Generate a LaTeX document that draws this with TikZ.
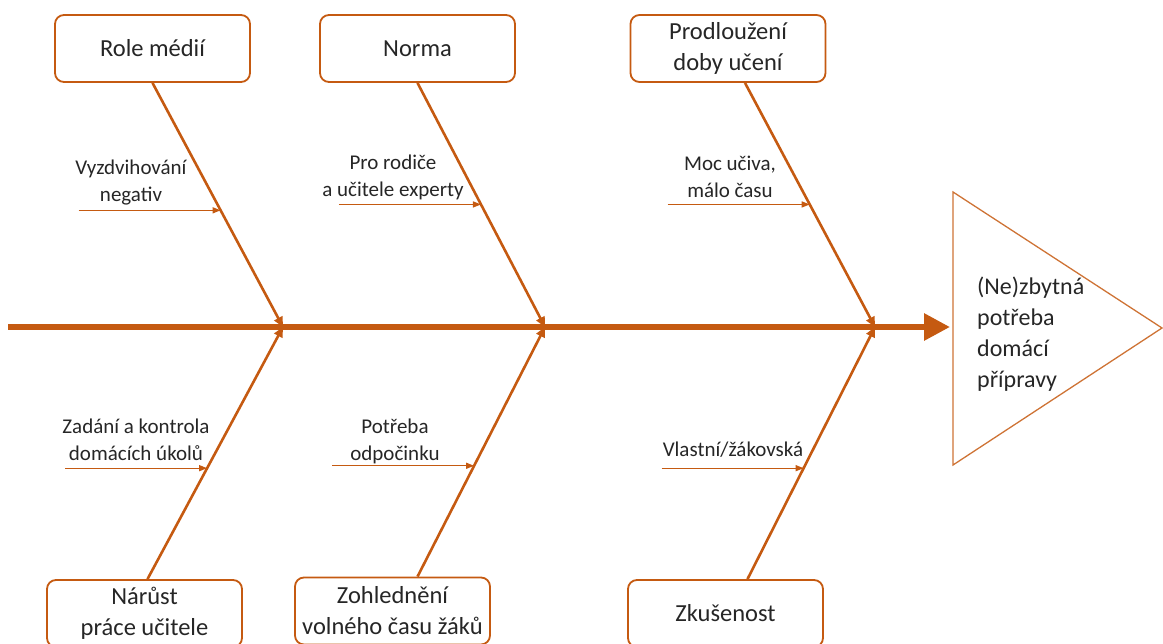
\documentclass[tikz,border=0pt]{standalone}
\usepackage{fontspec}
\setmainfont{Carlito}
\usetikzlibrary{arrows.meta, positioning, calc}
\definecolor{fishorange}{RGB}{197,90,17}

\begin{document}
\begin{tikzpicture}[
  x=1pt, y=-1pt,
  cause/.style={rectangle, rounded corners=9pt, draw=fishorange, line width=1.8pt,
                fill=white, minimum width=195pt, minimum height=67pt, align=center,
                font=\fontsize{24.5}{31}\selectfont, text=black!85},
  sublabel/.style={align=center, font=\fontsize{21}{27}\selectfont, text=black!85},
  spine/.style={-{Triangle[length=26pt, width=26pt]}, line width=6pt, color=fishorange},
  bone/.style={-{Triangle[length=10pt, width=9pt]}, line width=2.6pt, color=fishorange},
  twig/.style={-{Triangle[length=8pt, width=6pt]}, line width=1.3pt, color=fishorange},
]
  \useasboundingbox (0,0) rectangle (1163,644);

  % effect (head of the fish)
  \coordinate (tri1) at (953,192);
  \coordinate (tri2) at (1162,328);
  \coordinate (tri3) at (953,465);
  \draw[fishorange!85, line width=1.3pt] (tri1) -- (tri2) -- (tri3) -- cycle;
  \node[align=left, anchor=west, inner sep=0pt, font=\fontsize{24}{31}\selectfont,
        text=black!85] (effect) at (977,334)
        {(Ne)zbytná\\potřeba\\domácí\\přípravy};

  % spine
  \coordinate (tail) at (8,327);
  \coordinate (head) at (950,327);
  \coordinate (j1) at (283,327);
  \coordinate (j2) at (545,327);
  \coordinate (j3) at (875,327);
  \draw[spine] (tail) -- (head);

  % causes
  \node[cause] (media)   at (152.5,48.5) {Role médií};
  \node[cause] (norma)   at (417.5,48.5) {Norma};
  \node[cause] (prodl)   at (728,48.5)   {Prodloužení\\doby učení};
  \node[cause] (narust)  at (144.5,613.5) {Nárůst\\práce učitele};
  \node[cause] (volno)   at (392.5,611)   {Zohlednění\\volného času žáků};
  \node[cause] (zkus)    at (725.5,613.5) {Zkušenost};

  \draw[bone] (media.south) -- (j1);
  \draw[bone] (norma.south) -- (j2);
  \draw[bone] ([xshift=17pt]prodl.south) -- (j3);
  \draw[bone] ([xshift=3pt]narust.north) -- (j1);
  \draw[bone] ([xshift=25pt]volno.north) -- (j2);
  \draw[bone] ([xshift=22pt]zkus.north) -- (j3);

  % sub-causes
  \coordinate (s1) at ($(media.south)!0.522!(j1)$);
  \coordinate (s2) at ($(norma.south)!0.498!(j2)$);
  \coordinate (s3) at ($([xshift=17pt]prodl.south)!0.498!(j3)$);
  \coordinate (s4) at ($([xshift=3pt]narust.north)!0.44!(j1)$);
  \coordinate (s5) at ($([xshift=25pt]volno.north)!0.444!(j2)$);
  \coordinate (s6) at ($([xshift=22pt]zkus.north)!0.44!(j3)$);
  \foreach \s in {s1,s2,s3,s4,s5,s6}
    \coordinate (\s t) at ($(\s)+(-142,0)$);
  \foreach \s in {s1,s2,s3,s4,s5,s6}
    \draw[twig] (\s t) -- (\s);

  \node[sublabel] (negativ) at (131,183) {Vyzdvihování\\negativ};
  \node[sublabel] (experty) at (393,177) {Pro rodiče\\a učitele experty};
  \node[sublabel] (ucivo)   at (730,177) {Moc učiva,\\málo času};
  \node[sublabel] (ukoly)   at (136,440) {Zadání a kontrola\\domácích úkolů};
  \node[sublabel] (odpocin) at (395,441) {Potřeba\\odpočinku};
  \node[sublabel] (vlastni) at (733,450) {Vlastní/žákovská};
\end{tikzpicture}
\end{document}
